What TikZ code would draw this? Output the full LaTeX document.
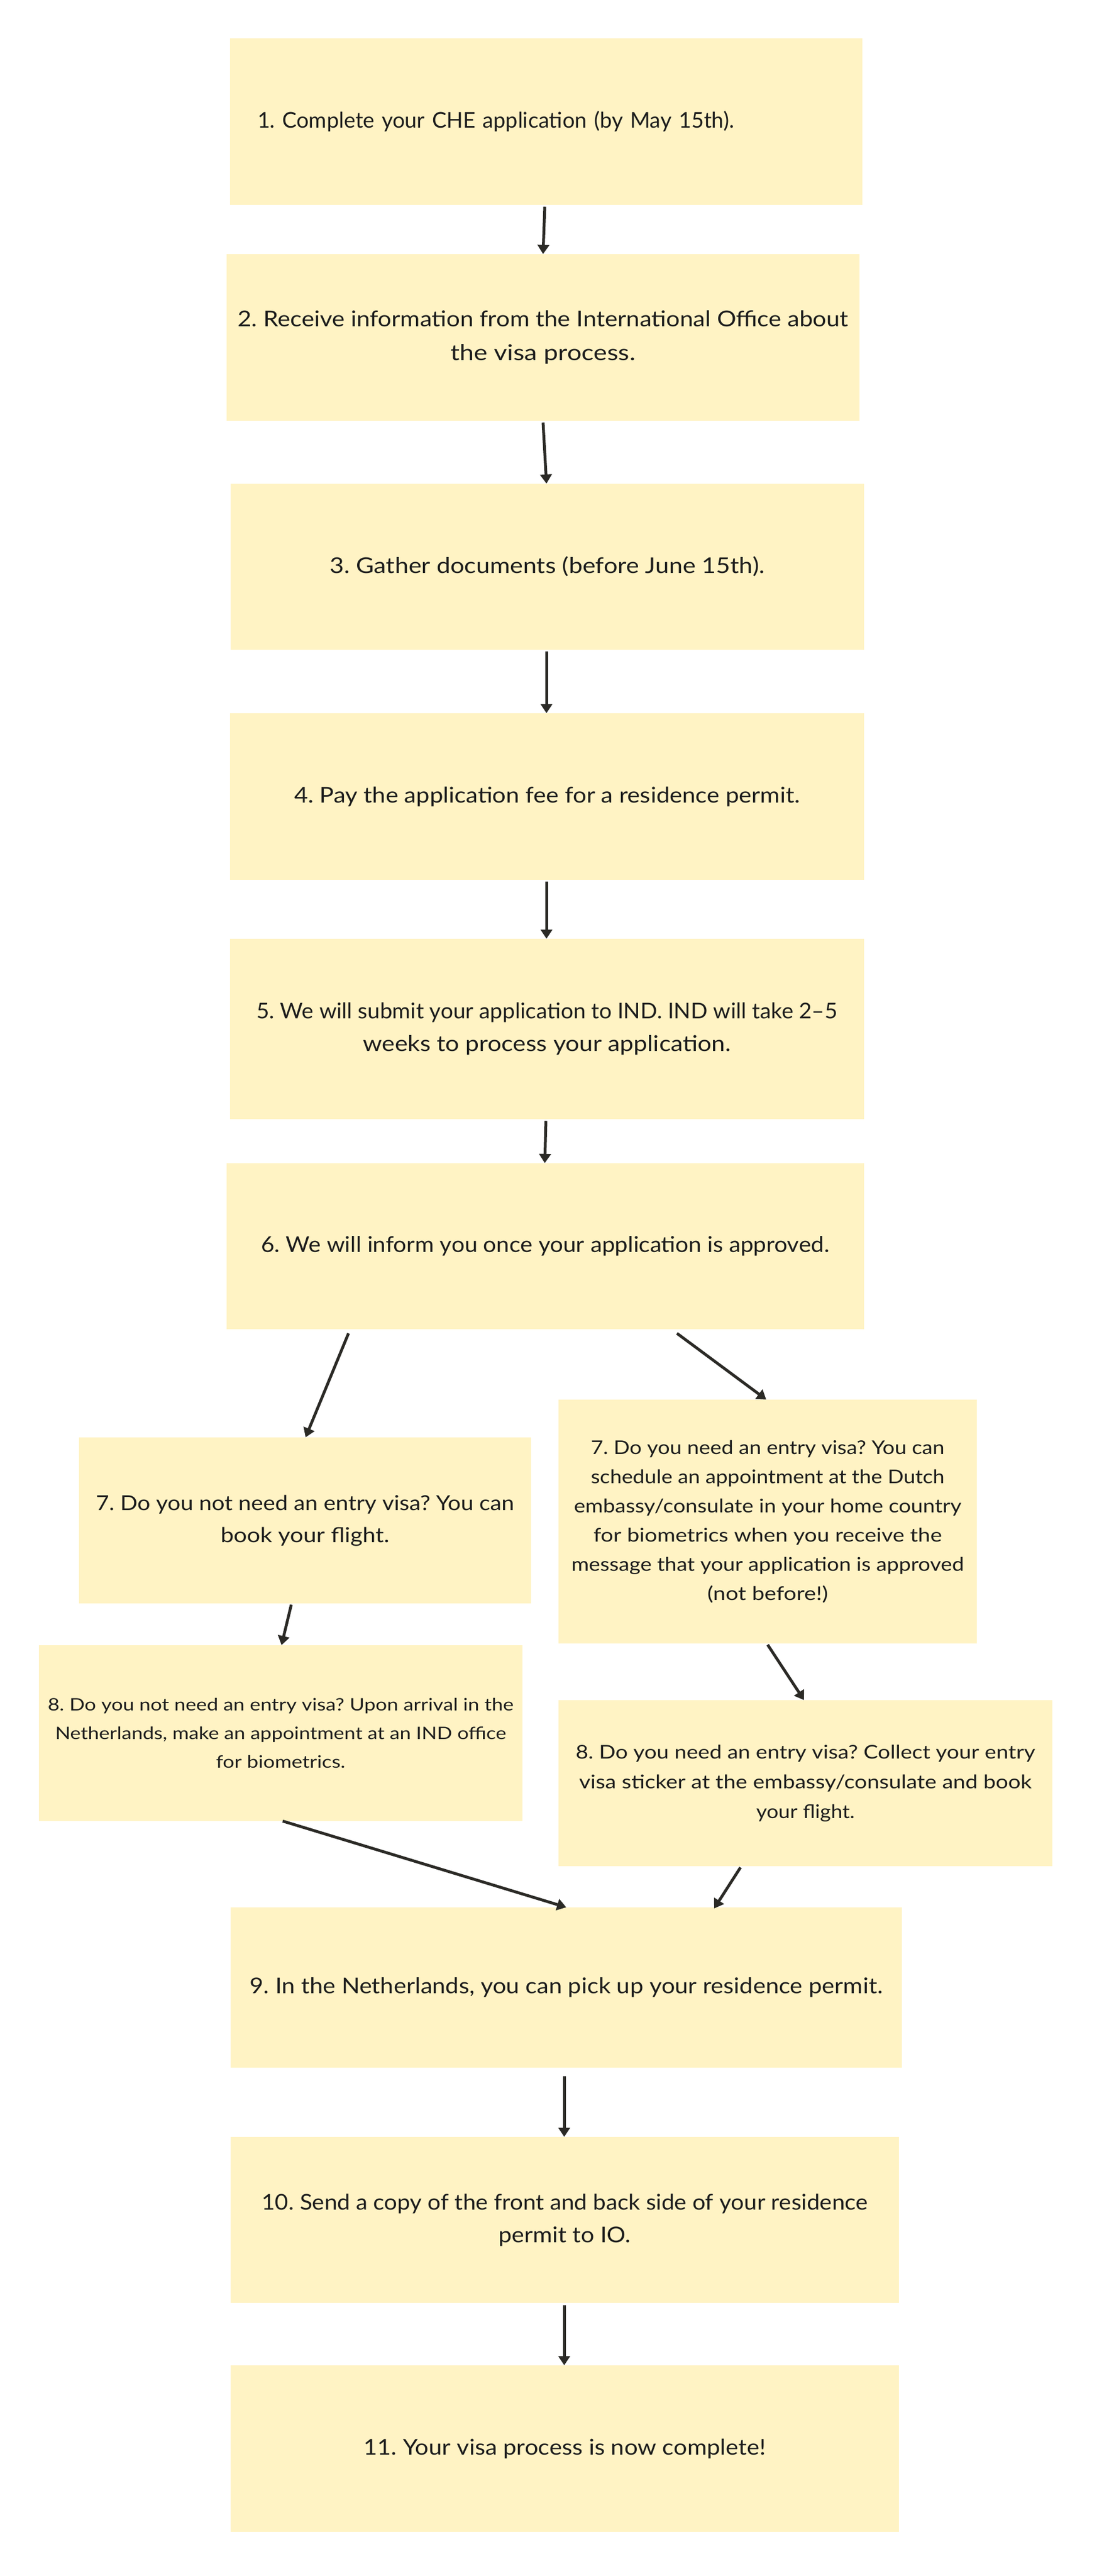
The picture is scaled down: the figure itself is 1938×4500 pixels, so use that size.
\documentclass[tikz,border=0pt]{standalone}
\usepackage{fontspec}
\setmainfont{Lato}
\usepackage{graphicx}
\usetikzlibrary{arrows.meta}
\frenchspacing
\definecolor{boxfill}{HTML}{FFF3C4}
\definecolor{arrowcol}{HTML}{2B2A26}
\definecolor{txtcol}{HTML}{1C1C1C}
\newsavebox\fitlinebox
\newcommand{\fitline}[2]{%
  \sbox\fitlinebox{#2}%
  \pgfmathsetmacro\fitfac{#1/\wd\fitlinebox}%
  \scalebox{\fitfac}[1]{\usebox\fitlinebox}}
\tikzset{
  stepbox/.style={rectangle, fill=boxfill, draw=none, inner sep=0pt, align=center, text=txtcol},
  arr/.style={draw=arrowcol, line width=5pt, -{Triangle[width=20pt,length=16pt]}}
}
\newcommand{\stepnode}[7]{% name, left, right, top, bottom, style, text
  \node[stepbox, #6, minimum width={#3-#2}, minimum height={#5-#4}] (#1) at ({(#2+#3)/2},{(#4+#5)/2}) {#7};
}
\begin{document}
\begin{tikzpicture}[x=1pt,y=-1pt]
\useasboundingbox[fill=white] (0,0) rectangle (1938,4500);

\stepnode{b1}{402}{1507}{67}{358}{font=\fontsize{38}{58}\selectfont, text width=1009pt, align=left}{\fitline{833}{1. Complete your CHE application (by May 15th).}}
\stepnode{b2}{396}{1502}{444}{735}{font=\fontsize{38}{59}\selectfont}{\fitline{1067}{2. Receive information from the International Office about}\\\fitline{323}{the visa process.}}
\stepnode{b3}{403}{1510}{845}{1135}{font=\fontsize{38}{58}\selectfont}{\fitline{760}{3. Gather documents (before June 15th).}}
\stepnode{b4}{402}{1510}{1246}{1537}{font=\fontsize{38}{58}\selectfont}{\fitline{884}{4. Pay the application fee for a residence permit.}}
\stepnode{b5}{402}{1510}{1640}{1955}{font=\fontsize{38}{57}\selectfont}{\fitline{1015}{5. We will submit your application to IND. IND will take 2–5}\\\fitline{643}{weeks to process your application.}}
\stepnode{b6}{396}{1510}{2032}{2322}{font=\fontsize{38}{58}\selectfont}{\fitline{993}{6. We will inform you once your application is approved.}}
\stepnode{b7l}{138}{928}{2511}{2801}{font=\fontsize{36}{56}\selectfont}{\fitline{731}{7. Do you not need an entry visa? You can}\\\fitline{295}{book your flight.}}
\stepnode{b7r}{976}{1707}{2445}{2871}{font=\fontsize{33}{51}\selectfont}{\fitline{618}{7. Do you need an entry visa? You can}\\\fitline{618}{schedule an appointment at the Dutch}\\\fitline{677}{embassy/consulate in your home country}\\\fitline{609}{for biometrics when you receive the}\\\fitline{686}{message that your application is approved}\\\fitline{211}{(not before!)}}
\stepnode{b8l}{68}{913}{2874}{3181}{font=\fontsize{30}{50}\selectfont}{\fitline{814}{8. Do you not need an entry visa? Upon arrival in the}\\\fitline{788}{Netherlands, make an appointment at an IND office}\\\fitline{226}{for biometrics.}}
\stepnode{b8r}{976}{1839}{2970}{3260}{font=\fontsize{33}{52}\selectfont}{\fitline{803}{8. Do you need an entry visa? Collect your entry}\\\fitline{791}{visa sticker at the embassy/consulate and book}\\\fitline{172}{your flight.}}
\stepnode{b9}{403}{1576}{3332}{3612}{font=\fontsize{38}{58}\selectfont}{\fitline{1106}{9. In the Netherlands, you can pick up your residence permit.}}
\stepnode{b10}{403}{1571}{3733}{4023}{font=\fontsize{38}{57}\selectfont}{\fitline{1059}{10. Send a copy of the front and back side of your residence}\\\fitline{231}{permit to IO.}}
\stepnode{b11}{403}{1571}{4132}{4423}{font=\fontsize{38}{58}\selectfont}{\fitline{703}{11. Your visa process is now complete!}}

\draw[arr] ([xshift=-2.5pt,yshift=-3pt]b1.south) -- ([xshift=0pt]b2.north);
\draw[arr] ([xshift=0pt,yshift=-3pt]b2.south) -- ([xshift=-1.5pt]b3.north);
\draw[arr] ([xshift=-1.5pt,yshift=-3pt]b3.south) -- ([xshift=-1pt]b4.north);
\draw[arr] ([xshift=-1pt,yshift=-3pt]b4.south) -- ([xshift=-1pt]b5.north);
\draw[arr] ([xshift=-2pt,yshift=-3pt]b5.south) -- ([xshift=-1pt]b6.north);
\draw[arr] ([xshift=-344pt,yshift=-7pt]b6.south) -- ([xshift=1pt]b7l.north);
\draw[arr] ([xshift=230pt,yshift=-7pt]b6.south) -- ([xshift=-2.5pt]b7r.north);
\draw[arr] ([xshift=-24pt,yshift=-2pt]b7l.south) -- ([xshift=1.5pt]b8l.north);
\draw[arr] ([xshift=0pt,yshift=-2pt]b7r.south) -- ([xshift=-2.5pt]b8r.north);
\draw[arr] ([xshift=3.5pt,yshift=0pt]b8l.south) -- ([xshift=0pt]b9.north);
\draw[arr] ([xshift=-113.5pt,yshift=-2pt]b8r.south) -- ([xshift=258.5pt,yshift=-2pt]b9.north);
\draw[arr] ([xshift=-3.5pt,yshift=-15pt]b9.south) -- ([xshift=-1pt]b10.north);
\draw[arr] ([xshift=-1pt,yshift=-4pt]b10.south) -- ([xshift=-1pt]b11.north);
\end{tikzpicture}
\end{document}
